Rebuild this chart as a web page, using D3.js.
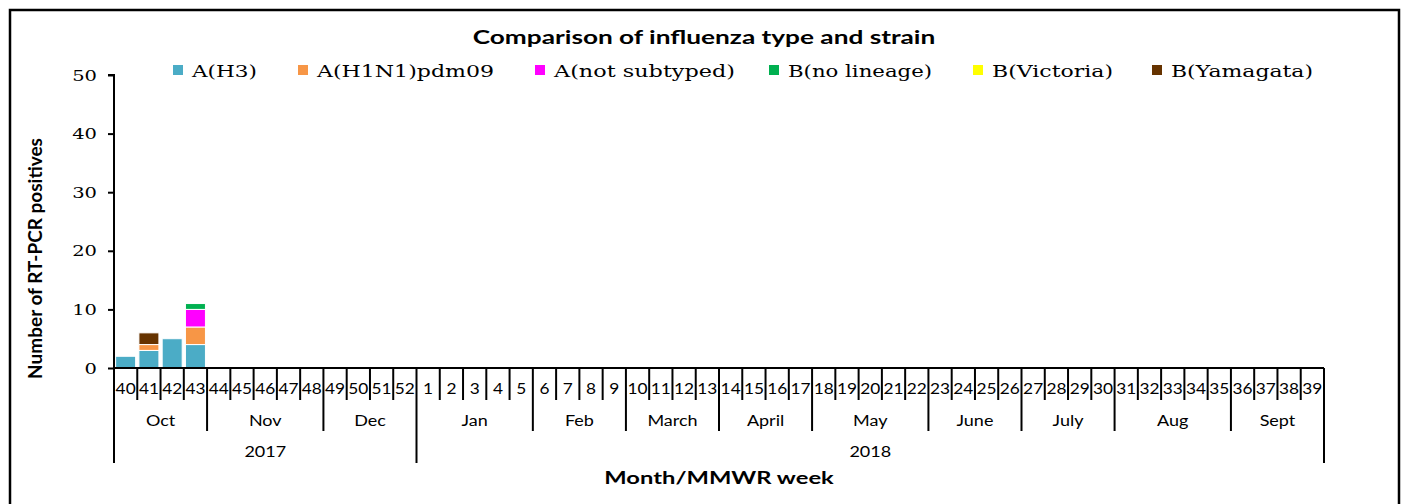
<!DOCTYPE html>
<html>
<head>
<meta charset="utf-8">
<script src="https://cdn.jsdelivr.net/npm/d3@7"></script>
<style>
  body { margin: 0; background: #fff; }
  svg { display: block; }
</style>
</head>
<body>
<div id="chart"></div>
<script>
// data
const weeks = [40,41,42,43,44,45,46,47,48,49,50,51,52,1,2,3,4,5,6,7,8,9,10,11,12,13,14,15,16,17,18,19,20,21,22,23,24,25,26,27,28,29,30,31,32,33,34,35,36,37,38,39];
const months = ["Oct","Nov","Dec","Jan","Feb","March","April","May","June","July","Aug","Sept"];
const monthWeeks = [4,5,4,5,4,4,4,5,4,4,5,4];
const years = ["2017","2018"];
const yearWeeks = [13,39];
const seriesNames = ["A(H3)","A(H1N1)pdm09","A(not subtyped)","B(no lineage)","B(Victoria)","B(Yamagata)"];
const colors = ["#4bacc6","#f79646","#ff00ff","#00b050","#ffff00","#663300"];
// values for weeks 40..43, rest are zero
const h3        = [2,3,5,4];
const h1n1      = [0,1,0,3];
const notSub    = [0,0,0,3];
const noLineage = [0,0,0,1];
const victoria  = [0,0,0,0];
const yamagata  = [0,2,0,0];
const yTicks = [0,10,20,30,40,50];

const W = 1405, H = 504;
const x0 = 114, x1 = 1324, yTop = 75, yBot = 368;

const svg = d3.select("#chart").append("svg")
    .attr("width", W).attr("height", H);

// text is wider than tall in the original, stretch it horizontally
function stretch(sel, sx) {
    sel.each(function () {
        const t = d3.select(this);
        const tx = +t.attr("x") || 0, ty = +t.attr("y") || 0;
        t.attr("x", 0).attr("y", 0)
         .attr("transform", `translate(${tx},${ty}) scale(${sx},1)`);
    });
}

// chart frame (no bottom edge visible)
svg.append("path")
    .attr("d", `M10,${H} L10,10 L1399,10 L1399,${H}`)
    .attr("fill", "none").attr("stroke", "#000").attr("stroke-width", 2.5);

const x = d3.scaleBand().domain(weeks.map(String)).range([x0, x1]).paddingInner(0.14).paddingOuter(0.07);
const step = (x1 - x0) / weeks.length;
const y = d3.scaleLinear().domain([0, 50]).range([yBot, yTop]);

// stacked data
const rows = weeks.map((w, i) => {
    const r = { week: String(w) };
    [h3, h1n1, notSub, noLineage, victoria, yamagata].forEach((arr, k) => {
        r[seriesNames[k]] = arr[i] || 0;
    });
    return r;
});
const stacked = d3.stack().keys(seriesNames)(rows);

svg.append("g").selectAll("g")
    .data(stacked)
    .join("g")
    .attr("fill", (d, i) => colors[i])
    .selectAll("rect")
    .data(d => d.filter(p => p[1] > p[0]))
    .join("rect")
    .attr("x", d => x(d.data.week))
    .attr("y", d => y(d[1]))
    .attr("width", x.bandwidth())
    .attr("height", d => y(d[0]) - y(d[1]))
    .attr("stroke", "#fff").attr("stroke-width", 1);

// y axis
const yAxis = svg.append("g")
    .attr("transform", `translate(${x0},0)`)
    .call(d3.axisLeft(y).tickValues(yTicks).tickSize(6).tickPadding(0));
yAxis.select(".domain").attr("stroke", "#000").attr("stroke-width", 2).attr("d", `M-6,${yTop}H0V${yBot}`);
yAxis.selectAll(".tick line").attr("stroke", "#000").attr("stroke-width", 2);
yAxis.selectAll(".tick text")
    .attr("font-family", "'DejaVu Serif', serif").attr("font-size", 15).attr("fill", "#000")
    .attr("x", -17).attr("dy", null).attr("y", 5);
yAxis.selectAll(".tick text").call(stretch, 1.3);

svg.append("text")
    .attr("transform", `translate(42,${(yTop + yBot) / 2 + 37}) rotate(-90)`)
    .attr("text-anchor", "middle")
    .attr("font-family", "Lato, sans-serif").attr("font-weight", "bold").attr("font-size", 19)
    .text("Number of RT-PCR positives");

// x axis: baseline
svg.append("line")
    .attr("x1", x0).attr("x2", x1).attr("y1", yBot).attr("y2", yBot)
    .attr("stroke", "#000").attr("stroke-width", 2);

const gx = svg.append("g").attr("stroke", "#000").attr("stroke-width", 2);
// week boundaries
d3.range(weeks.length + 1).forEach(i => {
    gx.append("line").attr("x1", x0 + i * step).attr("x2", x0 + i * step)
        .attr("y1", yBot).attr("y2", 400);
});
// month boundaries
let acc = 0;
const monthEdges = [0];
monthWeeks.forEach(n => { acc += n; monthEdges.push(acc); });
monthEdges.forEach(e => {
    gx.append("line").attr("x1", x0 + e * step).attr("x2", x0 + e * step)
        .attr("y1", 400).attr("y2", 431);
});
// year boundaries
acc = 0;
const yearEdges = [0];
yearWeeks.forEach(n => { acc += n; yearEdges.push(acc); });
yearEdges.forEach(e => {
    gx.append("line").attr("x1", x0 + e * step).attr("x2", x0 + e * step)
        .attr("y1", 431).attr("y2", 463);
});

const labelFont = "Lato, sans-serif";
svg.append("g").selectAll("text")
    .data(weeks)
    .join("text")
    .attr("x", (d, i) => x0 + (i + 0.5) * step)
    .attr("y", 394)
    .attr("text-anchor", "middle")
    .attr("font-family", labelFont).attr("font-size", 16)
    .text(d => d)
    .call(stretch, 1.08);

svg.append("g").selectAll("text")
    .data(months)
    .join("text")
    .attr("x", (d, i) => x0 + (monthEdges[i] + monthEdges[i + 1]) / 2 * step)
    .attr("y", 426)
    .attr("text-anchor", "middle")
    .attr("font-family", labelFont).attr("font-size", 15)
    .text(d => d)
    .call(stretch, 1.2);

svg.append("g").selectAll("text")
    .data(years)
    .join("text")
    .attr("x", (d, i) => x0 + (yearEdges[i] + yearEdges[i + 1]) / 2 * step)
    .attr("y", 457)
    .attr("text-anchor", "middle")
    .attr("font-family", labelFont).attr("font-size", 15)
    .text(d => d)
    .call(stretch, 1.2);

svg.append("text")
    .attr("x", 719).attr("y", 484)
    .attr("text-anchor", "middle")
    .attr("font-family", labelFont).attr("font-weight", "bold").attr("font-size", 18)
    .text("Month/MMWR week")
    .call(stretch, 1.32);

// title
svg.append("text")
    .attr("x", 704).attr("y", 44)
    .attr("text-anchor", "middle")
    .attr("font-family", labelFont).attr("font-weight", "bold").attr("font-size", 19)
    .text("Comparison of influenza type and strain")
    .call(stretch, 1.38);

// legend
const legendX = [173, 298, 535, 769, 973, 1152];
const legendW = [65, 177, 181, 144, 121, 142];
const leg = svg.append("g").selectAll("g")
    .data(seriesNames)
    .join("g")
    .attr("transform", (d, i) => `translate(${legendX[i]},65)`);
leg.append("rect").attr("width", 10).attr("height", 10).attr("fill", (d, i) => colors[i]);
leg.append("text")
    .attr("x", 19).attr("y", 12)
    .attr("font-family", "'DejaVu Serif', serif").attr("font-size", 17)
    .attr("textLength", (d, i) => legendW[i])
    .attr("lengthAdjust", "spacingAndGlyphs")
    .text(d => d);
</script>
</body>
</html>
